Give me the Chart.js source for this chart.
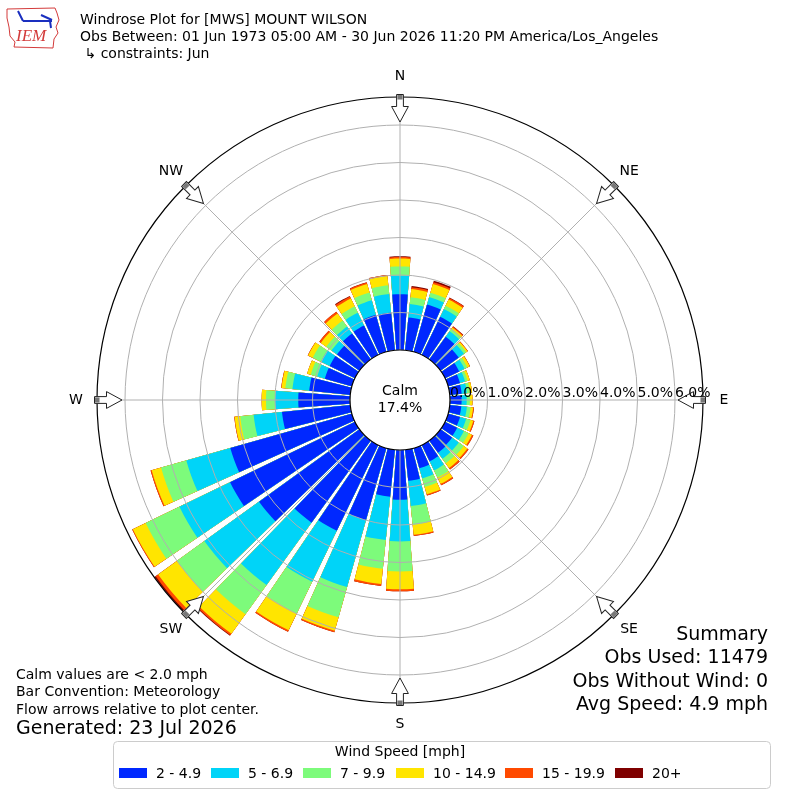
<!DOCTYPE html>
<html>
<head>
<meta charset="utf-8">
<title>Windrose Plot for [MWS] MOUNT WILSON</title>
<script src="https://cdn.jsdelivr.net/npm/chart.js@4.4.1/dist/chart.umd.min.js"></script>
<style>
  html, body { margin: 0; padding: 0; background: #ffffff; }
  canvas { display: block; }
</style>
</head>
<body>
<canvas id="rose" width="800" height="800"></canvas>
<script>
// Direction the wind blows from (degrees), one bar per 10 degrees
const DIRECTIONS = [0, 10, 20, 30, 40, 50, 60, 70, 80, 90, 100, 110, 120, 130, 140, 150, 160, 170,
                    180, 190, 200, 210, 220, 230, 240, 250, 260, 270, 280, 290, 300, 310, 320, 330, 340, 350];
const COMPASS = ['N', 'NE', 'E', 'SE', 'S', 'SW', 'W', 'NW'];
const SPEED_BINS = ['2 - 4.9', '5 - 6.9', '7 - 9.9', '10 - 14.9', '15 - 19.9', '20+'];
const BIN_COLORS = ['#0028ff', '#00d4f8', '#7dfb7b', '#ffe500', '#ff4a00', '#7f0000'];

// Frequency (% of obs) for each speed bin, per direction
const PCT_2_5   = [1.49, 0.88, 1.31, 1.13, 0.75, 0.60, 0.42, 0.33, 0.32, 0.31, 0.31, 0.33, 0.36, 0.38, 0.40, 0.48, 0.56, 0.83,
                   1.33, 1.26, 2.00, 2.54, 2.70, 3.30, 3.70, 3.37, 1.83, 1.38, 1.10, 0.75, 0.75, 0.74, 0.85, 0.87, 1.03, 1.01];
const PCT_5_7   = [0.49, 0.36, 0.21, 0.23, 0.18, 0.17, 0.16, 0.14, 0.14, 0.135, 0.15, 0.17, 0.20, 0.22, 0.20, 0.27, 0.28, 0.68,
                   1.11, 1.16, 1.85, 1.51, 2.05, 1.80, 1.50, 1.22, 0.76, 0.62, 0.45, 0.21, 0.26, 0.18, 0.23, 0.38, 0.40, 0.50];
const PCT_7_10  = [0.25, 0.18, 0.12, 0.10, 0.07, 0.07, 0.08, 0.07, 0.08, 0.085, 0.10, 0.12, 0.14, 0.16, 0.15, 0.21, 0.24, 0.50,
                   0.80, 0.77, 0.84, 0.94, 0.96, 0.90, 1.00, 0.70, 0.36, 0.24, 0.19, 0.18, 0.24, 0.17, 0.20, 0.19, 0.215, 0.23];
const PCT_10_15 = [0.21, 0.22, 0.24, 0.18, 0.05, 0.05, 0.07, 0.06, 0.06, 0.07, 0.07, 0.08, 0.10, 0.12, 0.15, 0.19, 0.20, 0.27,
                   0.475, 0.41, 0.37, 0.50, 0.64, 0.62, 0.38, 0.26, 0.15, 0.115, 0.10, 0.10, 0.14, 0.18, 0.23, 0.23, 0.235, 0.25];
const PCT_15_20 = [0.04, 0.05, 0.05, 0.05, 0.03, 0.01, 0.01, 0.00, 0.00, 0.00, 0.02, 0.03, 0.04, 0.04, 0.05, 0.04, 0.03, 0.03,
                   0.055, 0.05, 0.04, 0.04, 0.05, 0.08, 0.02, 0.03, 0.01, 0.00, 0.01, 0.00, 0.01, 0.05, 0.06, 0.06, 0.04, 0.03];
const PCT_20_UP = [0.02, 0.03, 0.045, 0.01, 0.01, 0.00, 0.00, 0.00, 0.00, 0.00, 0.00, 0.00, 0.00, 0.00, 0.00, 0.00, 0.00, 0.00,
                   0.00, 0.00, 0.00, 0.00, 0.02, 0.04, 0.00, 0.00, 0.00, 0.00, 0.00, 0.00, 0.00, 0.00, 0.00, 0.02, 0.01, 0.00];

const RING_TICKS = [0, 1, 2, 3, 4, 5, 6];
const CALM_PCT = 17.4;

const TITLE_LINES = [
    'Windrose Plot for [MWS] MOUNT WILSON',
    'Obs Between: 01 Jun 1973 05:00 AM - 30 Jun 2026 11:20 PM America/Los_Angeles',
    ' \u21b3 constraints: Jun'
];
const NOTE_LINES = ['Calm values are < 2.0 mph', 'Bar Convention: Meteorology', 'Flow arrows relative to plot center.'];
const GENERATED = 'Generated: 23 Jul 2026';
const SUMMARY_LINES = ['Summary', 'Obs Used: 11479', 'Obs Without Wind: 0', 'Avg Speed: 4.9 mph'];

// radial axis: the calm circle sits where 0% is, outer ring is the longest bar
const R_MIN = -4 / 3;
const R_MAX = 6.747;
const BAR_SPAN = 8.4;   // degrees per bar
const GAP_SPAN = 1.6;   // degrees between bars
const FONT = "'DejaVu Sans', sans-serif";

// stack the bins
const bins = [PCT_2_5, PCT_5_7, PCT_7_10, PCT_10_15, PCT_15_20, PCT_20_UP];
const stacked = [];
let running = DIRECTIONS.map(() => 0);
bins.forEach(bin => {
    running = running.map((v, i) => v + bin[i]);
    stacked.push(running);
});

// polar slices go clockwise from north: half of N bar, (gap, bar) x 35, gap, other half of N bar
const ringValues = totals => {
    const out = [totals[0]];
    for (let i = 1; i < totals.length; i++) out.push(0, totals[i]);
    out.push(0, totals[0]);
    return out;
};
const LAST_SLICE = DIRECTIONS.length * 2;

const datasets = bins.map((bin, k) => ({
    label: SPEED_BINS[k],
    data: ringValues(stacked[k]),
    backgroundColor: ctx => (ctx.dataIndex % 2 ? 'rgba(0,0,0,0)' : BIN_COLORS[k]),
    borderWidth: 0,
    angle: ctx => {
        if (ctx.dataIndex % 2) return GAP_SPAN;
        return (ctx.dataIndex === 0 || ctx.dataIndex === LAST_SLICE) ? BAR_SPAN / 2 : BAR_SPAN;
    }
}));

// text, arrows, calm circle, legend
const decor = {
    id: 'decor',
    afterDraw(chart) {
        const ctx = chart.ctx;
        const r = chart.scales.r;
        const cx = r.xCenter, cy = r.yCenter;
        ctx.save();

        // direction arrows pointing toward the center
        COMPASS.forEach((name, i) => {
            const a = r.getIndexAngle(i) - Math.PI / 2;
            ctx.save();
            ctx.translate(cx, cy);
            ctx.rotate(a);
            ctx.beginPath();
            ctx.moveTo(305.5, -3.4);
            ctx.lineTo(293.5, -3.4);
            ctx.lineTo(293.5, -8.4);
            ctx.lineTo(278, 0);
            ctx.lineTo(293.5, 8.4);
            ctx.lineTo(293.5, 3.4);
            ctx.lineTo(305.5, 3.4);
            ctx.closePath();
            ctx.fillStyle = '#ffffff';
            ctx.fill();
            ctx.strokeStyle = '#222222';
            ctx.lineWidth = 1;
            ctx.stroke();
            ctx.fillStyle = '#777777';
            ctx.fillRect(300.5, -2.6, 4.5, 5.2);
            ctx.restore();

            const p = r.getPointPosition(i, 324);
            ctx.fillStyle = '#000000';
            ctx.font = '14px ' + FONT;
            ctx.textAlign = 'center';
            ctx.textBaseline = 'middle';
            ctx.fillText(name, p.x, p.y);
        });

        // calm circle
        const calmR = r.getDistanceFromCenterForValue(0);
        ctx.beginPath();
        ctx.arc(cx, cy, calmR, 0, Math.PI * 2);
        ctx.fillStyle = '#ffffff';
        ctx.fill();
        ctx.strokeStyle = '#000000';
        ctx.lineWidth = 1.2;
        ctx.stroke();
        ctx.fillStyle = '#000000';
        ctx.font = '14px ' + FONT;
        ctx.textAlign = 'center';
        ctx.textBaseline = 'middle';
        ctx.fillText('Calm', cx, cy - 9);
        ctx.fillText(CALM_PCT.toFixed(1) + '%', cx, cy + 8);

        // ring labels along the east spoke
        ctx.textAlign = 'left';
        ctx.textBaseline = 'alphabetic';
        RING_TICKS.forEach(v => {
            ctx.fillText(v.toFixed(1) + '%', cx + r.getDistanceFromCenterForValue(v), cy - 3);
        });

        // title block
        ctx.font = '14px ' + FONT;
        ctx.textBaseline = 'middle';
        TITLE_LINES.forEach((t, i) => ctx.fillText(t, 80, 20 + i * 17));

        // notes bottom-left
        NOTE_LINES.forEach((t, i) => ctx.fillText(t, 16, 675 + i * 17.5));
        ctx.font = '19px ' + FONT;
        ctx.fillText(GENERATED, 16, 729);

        // summary bottom-right
        ctx.textAlign = 'right';
        SUMMARY_LINES.forEach((t, i) => ctx.fillText(t, 768, 635 + i * 23.3));

        // legend box
        ctx.beginPath();
        ctx.roundRect(113.5, 741.5, 657, 47, 4);
        ctx.strokeStyle = '#cccccc';
        ctx.lineWidth = 1;
        ctx.stroke();
        ctx.fillStyle = '#000000';
        ctx.font = '14px ' + FONT;
        ctx.textAlign = 'center';
        ctx.fillText('Wind Speed [mph]', 400, 752);
        const itemX = [119, 211, 303, 396, 505, 615];
        ctx.textAlign = 'left';
        SPEED_BINS.forEach((label, k) => {
            ctx.fillStyle = BIN_COLORS[k];
            ctx.fillRect(itemX[k], 768, 28, 10);
            ctx.fillStyle = '#000000';
            ctx.fillText(label, itemX[k] + 37, 774);
        });

        // IEM logo (rough)
        ctx.strokeStyle = '#d33a3a';
        ctx.lineWidth = 1;
        ctx.beginPath();
        const outline = [[7, 9], [55, 8], [57, 13], [59, 20], [56, 27], [58, 33], [54, 39], [53, 48],
                         [14, 47], [15, 42], [10, 36], [9, 27], [7, 18]];
        outline.forEach(([x, y], i) => (i ? ctx.lineTo(x, y) : ctx.moveTo(x, y)));
        ctx.closePath();
        ctx.stroke();
        ctx.fillStyle = '#d33a3a';
        ctx.font = "italic 17px 'Liberation Serif', serif";
        ctx.textAlign = 'left';
        ctx.fillText('IEM', 16, 37);
        ctx.strokeStyle = '#1a2fbf';
        ctx.lineWidth = 2;
        ctx.beginPath();
        ctx.moveTo(23, 21); ctx.lineTo(52, 21);
        ctx.moveTo(41, 15); ctx.lineTo(52, 20);
        ctx.moveTo(18, 11); ctx.lineTo(23, 21);
        ctx.moveTo(50, 21); ctx.lineTo(51, 28);
        ctx.stroke();

        ctx.restore();
    }
};

new Chart(document.getElementById('rose'), {
    type: 'polarArea',
    data: { labels: COMPASS, datasets: datasets },
    options: {
        responsive: false,
        animation: false,
        events: [],
        devicePixelRatio: 1,
        layout: { padding: 97 },
        plugins: { legend: { display: false }, tooltip: { enabled: false } },
        scales: {
            r: {
                min: R_MIN,
                max: R_MAX,
                startAngle: 0,
                ticks: { display: false },
                pointLabels: { display: false },
                grid: {
                    z: 1,
                    circular: true,
                    color: ctx => (ctx.tick && ctx.tick.value >= R_MAX - 1e-6 ? '#000000' : '#b0b0b0'),
                    lineWidth: ctx => (ctx.tick && ctx.tick.value >= R_MAX - 1e-6 ? 1.2 : 1)
                },
                angleLines: { display: true, color: '#b0b0b0', lineWidth: 1 },
                afterBuildTicks: scale => {
                    scale.ticks = RING_TICKS.concat([R_MAX]).map(v => ({ value: v }));
                }
            }
        }
    },
    plugins: [decor]
});
</script>
</body>
</html>
